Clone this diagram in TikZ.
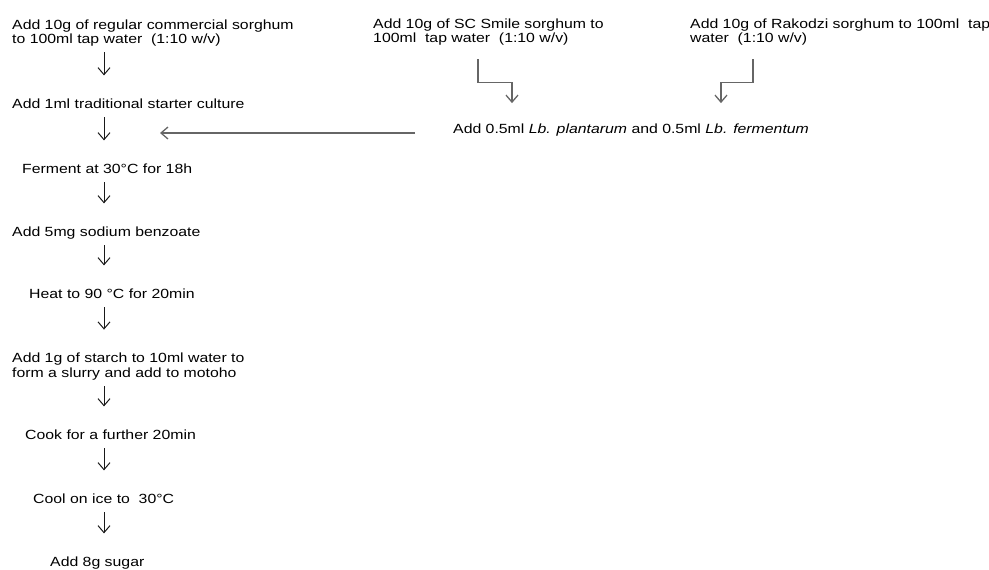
\documentclass[tikz,border=0pt]{standalone}
\usepackage{fontspec}
\setmainfont{Liberation Sans}[FakeStretch=1.19]
\usetikzlibrary{arrows.meta,calc}

\begin{document}
\begin{tikzpicture}[x=1pt,y=-1pt,
    node font=\fontsize{13.3}{14}\selectfont,
    stage/.style={inner sep=0pt,anchor=base west,text height=9.7pt,text depth=2.8pt},
    stagebox/.style={inner sep=0pt,anchor=north west,align=left},
    down/.style={black!90,line width=1pt,arrows={-Straight Barb[length=7pt,width=12pt]},
      shorten <=6pt,shorten >=22.7pt},
    feed/.style={black!60,line width=1.3pt,arrows={-Straight Barb[length=7pt,width=12pt]}}]
  \useasboundingbox (0,0) rectangle (989,570);
  \coordinate (col) at (104,0);
  \coordinate (merge) at (160,133);

  \node[stagebox] (reg) at (12,19.6) {Add 10g of regular commercial sorghum\\to 100ml tap water\ \ (1:10 w/v)};
  \node[stagebox] (sc) at (373,18.6) {Add 10g of SC Smile sorghum to\\100ml\ \ tap water\ \ (1:10 w/v)};
  \node[stagebox] (rk) at (690,18.6) {Add 10g of Rakodzi sorghum to 100ml\ \ tap\\water\ \ (1:10 w/v)};
  \node[stage] (starter) at (12,108) {Add 1ml traditional starter culture};
  \node[stage] (lb) at (453,133) {Add 0.5ml \textit{Lb. plantarum} and 0.5ml \textit{Lb. fermentum}};
  \node[stage] (ferment) at (22,173) {Ferment at 30°C for 18h};
  \node[stage] (benz) at (12,236) {Add 5mg sodium benzoate};
  \node[stage] (heat) at (29,298) {Heat to 90 °C for 20min};
  \node[stagebox] (starch) at (12,352.3) {Add 1g of starch to 10ml water to\\[1pt]form a slurry and add to motoho};
  \node[stage] (cook) at (25,439) {Cook for a further 20min};
  \node[stage] (cool) at (33,503) {Cool on ice to\ \ 30°C};
  \node[stage] (sugar) at (50,566) {Add 8g sugar};

  \draw[down] (reg.south -| col) -- (starter.north -| col);
  \draw[down] (starter.south -| col) -- (ferment.north -| col);
  \draw[down] (ferment.south -| col) -- (benz.north -| col);
  \draw[down] (benz.south -| col) -- (heat.north -| col);
  \draw[down] (heat.south -| col) -- (starch.north -| col);
  \draw[down] (starch.south -| col) -- (cook.north -| col);
  \draw[down] (cook.south -| col) -- (cool.north -| col);
  \draw[down] (cool.south -| col) -- (sugar.north -| col);

  \draw[feed] ($(sc.south west)+(105,14)$) -- ++(0,23) -| ($(lb.north west)+(59,-20)$);
  \draw[feed] ($(rk.south west)+(63,14)$) -- ++(0,23) -| ($(lb.north west)+(268,-20)$);
  \draw[feed] ($(lb.base west)+(-38,0)$) -- (merge);
\end{tikzpicture}
\end{document}
